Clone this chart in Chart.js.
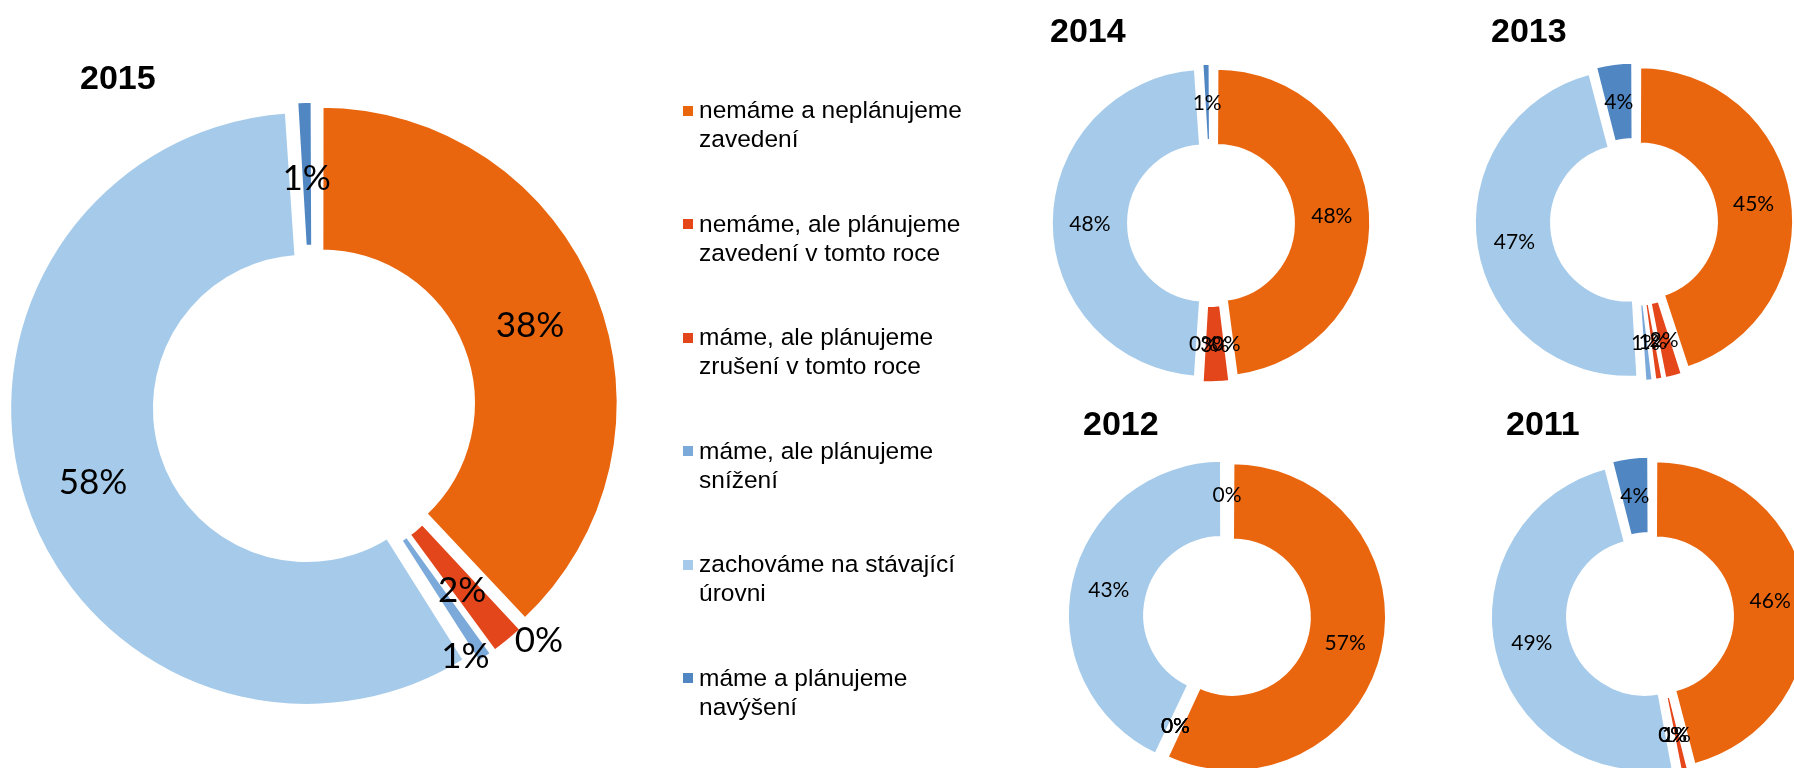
<!DOCTYPE html>
<html>
<head>
<meta charset="utf-8">
<script src="https://cdn.jsdelivr.net/npm/chart.js"></script>
<style>
html, body { margin:0; padding:0; background:#fff; }
body { position:relative; width:1794px; height:768px; overflow:hidden; }
canvas { position:absolute; }
.title { position:absolute; font:bold 34px "Liberation Sans", Arial, sans-serif; line-height:34px; color:#000; white-space:nowrap; }
.item { position:absolute; left:699px; font:24.5px "Liberation Sans", Arial, sans-serif; line-height:29px; color:#000; white-space:nowrap; }
.mk { position:absolute; left:683px; width:10px; height:10px; }
</style>
</head>
<body>
<script>
// ---------- data ----------
const categories = [
  ["nemáme a neplánujeme", "zavedení"],
  ["nemáme, ale plánujeme", "zavedení v tomto roce"],
  ["máme, ale plánujeme", "zrušení v tomto roce"],
  ["máme, ale plánujeme", "snížení"],
  ["zachováme na stávající", "úrovni"],
  ["máme a plánujeme", "navýšení"]
];
const years = ["2015", "2014", "2013", "2012", "2011"];
const values2015 = [38, 0, 2, 1, 58, 1];
const values2014 = [48, 0, 3, 0, 48, 1];
const values2013 = [45, 2, 1, 1, 47, 4];
const values2012 = [57, 0, 0, 0, 43, 0];
const values2011 = [46, 1, 0, 0, 49, 4];
const colors = ["#E9660F", "#E5461A", "#E3461B", "#7BA9D9", "#A6CBEA", "#5087C3"];

// ---------- layout (positions / sizes, separate from data) ----------
const zero6 = [0, 0, 0, 0, 0, 0];
const charts = [
  { year: years[0], values: values2015, cx: 313.5, cy: 406, R: 297.5, cut: "51%", off: 7.7, bw: 4, size: 35, dy: 4, S: 800, tl: 80,   tb: 88.7, push: [0, 89, 0, 56, 0, 0], turn: [0, -1.2, 0, 2.5, 0, 0] },
  { year: years[1], values: values2014, cx: 1210.5, cy: 223, R: 154.5, cut: "50%", off: 5.2, bw: 3, size: 21, dy: 0, S: 420, tl: 1050, tb: 42,   push: zero6, turn: zero6 },
  { year: years[2], values: values2013, cx: 1633.5, cy: 222, R: 154.5, cut: "50%", off: 5.2, bw: 3, size: 21, dy: 0, S: 420, tl: 1491, tb: 42,   push: zero6, turn: zero6 },
  { year: years[3], values: values2012, cx: 1226.5, cy: 616, R: 154.5, cut: "50%", off: 5.2, bw: 3, size: 21, dy: 0, S: 420, tl: 1083, tb: 435,  push: zero6, turn: zero6 },
  { year: years[4], values: values2011, cx: 1650,   cy: 616, R: 154.5, cut: "50%", off: 5.2, bw: 3, size: 21, dy: 0, S: 420, tl: 1506, tb: 435,  push: zero6, turn: zero6 }
];

// plugin: keep exploded slices at their true radius and draw % labels
const pctLabels = {
  id: "pctLabels",
  afterDatasetUpdate(chart, args, opts) {
    const off = opts.off || 0;
    for (const arc of args.meta.data) {
      const c = arc.endAngle - arc.startAngle;
      const fix = 1 - Math.sin(Math.min(Math.PI, c));
      const d = fix * off;
      arc.outerRadius -= d;
      arc.innerRadius -= d;
    }
  },
  afterDatasetsDraw(chart, args, opts) {
    const ctx = chart.ctx;
    const meta = chart.getDatasetMeta(0);
    const ctrl = meta.controller;
    const rMid = (ctrl.outerRadius + ctrl.innerRadius) / 2;
    const vals = chart.data.datasets[0].data;
    ctx.save();
    ctx.font = opts.size + "px Lato, 'Open Sans', sans-serif";
    ctx.textAlign = "center";
    ctx.textBaseline = "alphabetic";
    ctx.fillStyle = "#000";
    meta.data.forEach((arc, i) => {
      const a = (arc.startAngle + arc.endAngle) / 2 + (opts.turn[i] || 0) * Math.PI / 180;
      const d = rMid + (opts.off || 0) + (opts.push[i] || 0);
      const x = arc.x + Math.cos(a) * d;
      const y = arc.y + Math.sin(a) * d + opts.size * 0.36 + (opts.dy || 0);
      ctx.fillText(vals[i] + "%", x, y);
    });
    ctx.restore();
  }
};

function addTitle(text, left, baseline) {
  const t = document.createElement("div");
  t.className = "title";
  t.textContent = text;
  t.style.left = left + "px";
  t.style.top = (baseline - 28.8) + "px";
  document.body.appendChild(t);
}

function build() {
  charts.forEach(cfg => {
    const cv = document.createElement("canvas");
    cv.width = cfg.S; cv.height = cfg.S;
    cv.style.width = cfg.S + "px"; cv.style.height = cfg.S + "px";
    cv.style.left = (cfg.cx - cfg.S / 2) + "px";
    cv.style.top = (cfg.cy - cfg.S / 2) + "px";
    document.body.appendChild(cv);
    new Chart(cv.getContext("2d"), {
      type: "doughnut",
      data: {
        labels: categories.map(c => c.join(" ")),
        datasets: [{
          data: cfg.values,
          backgroundColor: colors,
          borderColor: "#ffffff",
          borderWidth: cfg.bw,
          offset: cfg.off * 4
        }]
      },
      options: {
        responsive: false,
        animation: false,
        events: [],
        radius: cfg.R,
        cutout: cfg.cut,
        rotation: 0,
        layout: { padding: 0 },
        plugins: {
          legend: { display: false },
          title: { display: false },
          tooltip: { enabled: false },
          pctLabels: { off: cfg.off, size: cfg.size, dy: cfg.dy, push: cfg.push, turn: cfg.turn }
        }
      },
      plugins: [pctLabels]
    });
    addTitle(cfg.year, cfg.tl, cfg.tb);
  });

  // legend (html text, colours from the same arrays)
  categories.forEach((lines, i) => {
    const base = 118 + 113.5 * i;
    const mk = document.createElement("div");
    mk.className = "mk";
    mk.style.top = (base - 12.5) + "px";
    mk.style.background = colors[i];
    document.body.appendChild(mk);
    const it = document.createElement("div");
    it.className = "item";
    it.style.top = (base - 23) + "px";
    it.innerHTML = lines.map(s => s.replace(/&/g, "&amp;")).join("<br>");
    document.body.appendChild(it);
  });
}

if (document.fonts && document.fonts.load) {
  Promise.all([document.fonts.load("35px Lato"), document.fonts.load("21px Lato")]).then(build, build);
} else {
  build();
}
</script>
</body>
</html>
